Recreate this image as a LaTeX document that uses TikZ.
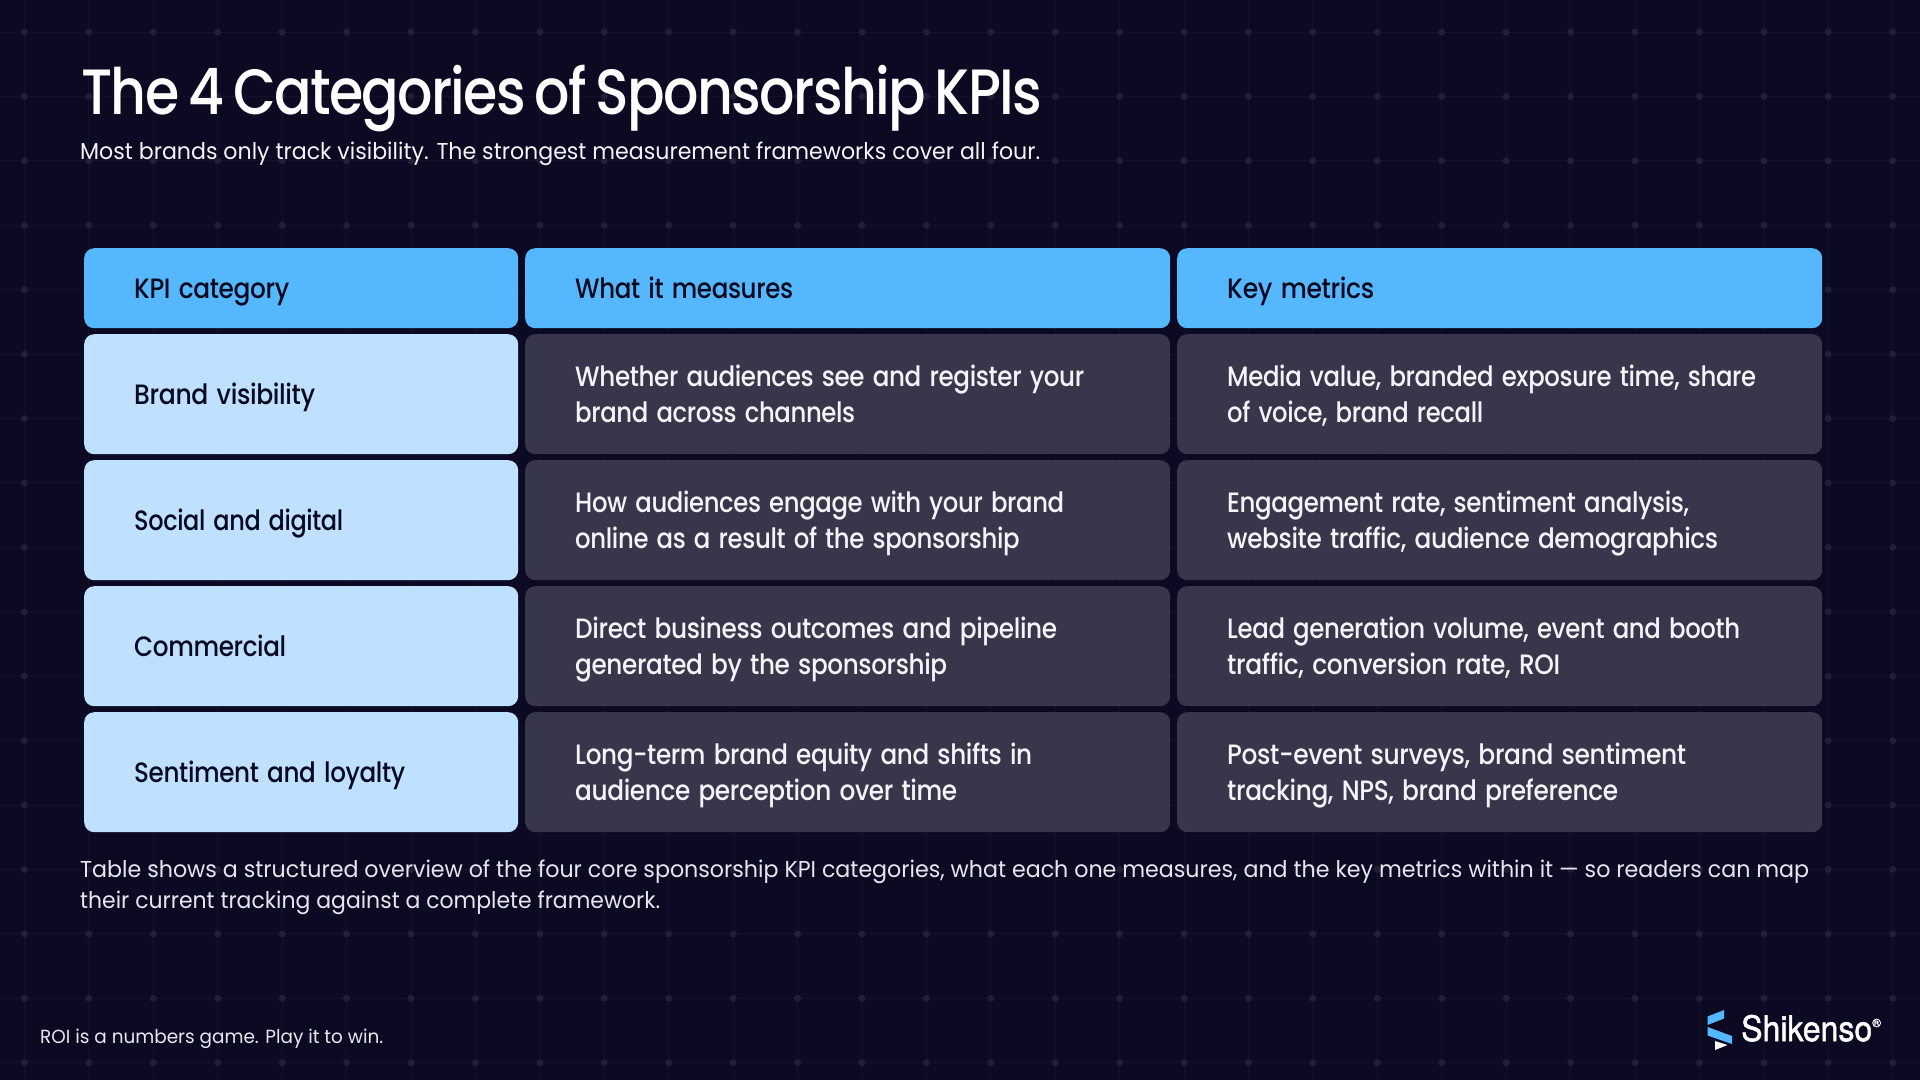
\documentclass[tikz,border=0pt]{standalone}
\usepackage{graphicx}
\usepackage{fontspec}
\setmainfont{Poppins}
\newfontfamily\logofont{TeX Gyre Heros}[FakeBold=1.5]
\newfontfamily\titlefont{Poppins Medium}[WordSpace=0.7,LetterSpace=-3]
\newfontfamily\cellfamily{Poppins Medium}[WordSpace=0.85,LetterSpace=-1.5]
\definecolor{bgc}{HTML}{0C0A22}
\definecolor{gridl}{HTML}{14122B}
\definecolor{gridd}{HTML}{211F38}
\definecolor{headc}{HTML}{55B8FF}
\definecolor{lightc}{HTML}{BFE1FF}
\definecolor{darkc}{HTML}{38364A}
\definecolor{inkc}{HTML}{090920}
\definecolor{paperc}{HTML}{F4F4F8}
\definecolor{capc}{HTML}{E6E6EF}
\newsavebox{\fitbox}
\newcommand{\fitw}[2]{\sbox{\fitbox}{#2}\pgfmathsetmacro{\fitscale}{#1/\the\wd\fitbox}\scalebox{\fitscale}[1]{\usebox{\fitbox}}}
\newcommand{\cellfont}{\cellfamily\fontsize{28}{36}\selectfont}
\tikzset{
  cellbox/.style={anchor=north west,rounded corners=10pt,inner xsep=50pt,inner ysep=0pt,align=left},
  headbox/.style={cellbox,fill=headc,text=inkc,font=\cellfont,text height=20pt,text depth=0pt},
  catbox/.style={cellbox,fill=lightc,text=inkc,font=\cellfont,text height=20pt,text depth=0pt},
  databox/.style={cellbox,fill=darkc,text=paperc,font=\cellfont,text height=29pt,text depth=45pt},
  linetext/.style={anchor=base west,inner sep=0pt,text=capc},
}
\begin{document}
\begin{tikzpicture}[x=1pt,y=-1pt]
\useasboundingbox (0,0) rectangle (1920,1080);
\fill[bgc] (0,0) rectangle (1920,1080);
% background grid
\foreach \k in {0,...,29}{\draw[gridl,line width=1pt] ({24.5+64.42*\k},0) -- ({24.5+64.42*\k},1080);}
\foreach \k in {0,...,16}{\draw[gridl,line width=1pt] (0,{32+64.42*\k}) -- (1920,{32+64.42*\k});}
\foreach \k in {0,...,29}{\foreach \j in {0,...,16}{\fill[gridd] ({24.5+64.42*\k},{32+64.42*\j}) circle (3.5);}}
% title block
\node[linetext,text=white] (title) at (81,114) {\titlefont\fontsize{64}{64}\selectfont\fitw{961}{The 4 Categories of Sponsorship KPIs}};
\node[linetext,text=paperc] (subtitle) at (80,159) {\fontsize{23}{23}\selectfont\fitw{960}{Most brands only track visibility. The strongest measurement frameworks cover all four.}};
% header row
\node[headbox,minimum width=434pt,minimum height=80pt,text width=334pt] (h1) at (84,248) {\fitw{155}{KPI category}};
\node[headbox,minimum width=645pt,minimum height=80pt,text width=545pt] (h2) at (525,248) {\fitw{218}{What it measures}};
\node[headbox,minimum width=645pt,minimum height=80pt,text width=545pt] (h3) at (1177,248) {\fitw{147}{Key metrics}};
% row 1
\node[catbox,minimum width=434pt,minimum height=120pt,text width=334pt] (c1) at (84,334) {\fitw{181}{Brand visibility}};
\node[databox,minimum width=645pt,minimum height=120pt,text width=545pt] (m1) at (525,334) {\fitw{509}{Whether audiences see and register your}\\\fitw{280}{brand across channels}};
\node[databox,minimum width=645pt,minimum height=120pt,text width=545pt] (k1) at (1177,334) {\fitw{529}{Media value, branded exposure time, share}\\\fitw{256}{of voice, brand recall}};
% row 2
\node[catbox,minimum width=434pt,minimum height=120pt,text width=334pt] (c2) at (84,460) {\fitw{209}{Social and digital}};
\node[databox,minimum width=645pt,minimum height=120pt,text width=545pt] (m2) at (525,460) {\fitw{489}{How audiences engage with your brand}\\\fitw{444.5}{online as a result of the sponsorship}};
\node[databox,minimum width=645pt,minimum height=120pt,text width=545pt] (k2) at (1177,460) {\fitw{462}{Engagement rate, sentiment analysis,}\\\fitw{491}{website traffic, audience demographics}};
% row 3
\node[catbox,minimum width=434pt,minimum height=120pt,text width=334pt] (c3) at (84,586) {\fitw{152}{Commercial}};
\node[databox,minimum width=645pt,minimum height=120pt,text width=545pt] (m3) at (525,586) {\fitw{482}{Direct business outcomes and pipeline}\\\fitw{372}{generated by the sponsorship}};
\node[databox,minimum width=645pt,minimum height=120pt,text width=545pt] (k3) at (1177,586) {\fitw{513}{Lead generation volume, event and booth}\\\fitw{333}{traffic, conversion rate, ROI}};
% row 4
\node[catbox,minimum width=434pt,minimum height=120pt,text width=334pt] (c4) at (84,712) {\fitw{271}{Sentiment and loyalty}};
\node[databox,minimum width=645pt,minimum height=120pt,text width=545pt] (m4) at (525,712) {\fitw{457}{Long-term brand equity and shifts in}\\\fitw{382}{audience perception over time}};
\node[databox,minimum width=645pt,minimum height=120pt,text width=545pt] (k4) at (1177,712) {\fitw{459}{Post-event surveys, brand sentiment}\\\fitw{391}{tracking, NPS, brand preference}};
% caption
\node[linetext] (cap1) at (80,877) {\fontsize{23}{23}\selectfont\fitw{1729}{Table shows a structured overview of the four core sponsorship KPI categories, what each one measures, and the key metrics within it — so readers can map}};
\node[linetext] (cap2) at (80,908) {\fontsize{23}{23}\selectfont\fitw{580}{their current tracking against a complete framework.}};
% footer
\node[linetext] (foot) at (40,1043) {\fontsize{19}{19}\selectfont\fitw{343}{ROI is a numbers game. Play it to win.}};
% logo
\fill[headc] (1724,1010) -- (1707.5,1016.5) -- (1707.5,1025) -- (1724,1018.5) -- cycle;
\fill[headc] (1707.5,1027) -- (1732,1036) -- (1732,1044) -- (1707.5,1035.5) -- cycle;
\fill[white] (1715,1041) -- (1727.5,1045) -- (1715,1050) -- cycle;
\node[linetext,text=white] (logo) at (1741,1041) {\logofont\fontsize{35}{35}\selectfont\fitw{131}{Shikenso}\raisebox{14pt}{\fontsize{12}{12}\selectfont ®}};
\end{tikzpicture}
\end{document}
